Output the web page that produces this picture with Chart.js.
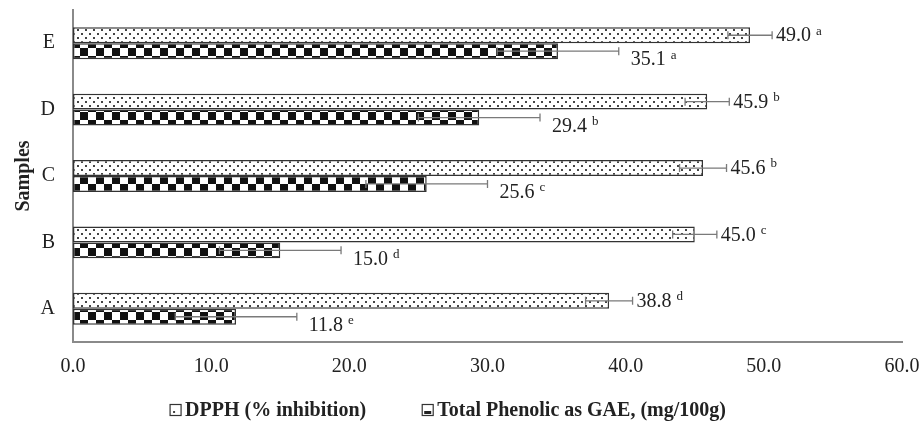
<!DOCTYPE html>
<html lang="en">
<head>
<meta charset="UTF-8">
<title>DPPH and Total Phenolic by sample</title>
<script src="https://cdn.jsdelivr.net/npm/chart.js"></script>
<style>
  html, body { margin: 0; padding: 0; background: #fff; }
  #wrap { width: 922px; height: 427px; }
</style>
</head>
<body>
<div id="wrap"><canvas id="chart" width="922" height="427"></canvas></div>
<script>
// values
const samples = ['A', 'B', 'C', 'D', 'E'];
const dpphValues = [38.8, 45.0, 45.6, 45.9, 49.0];
const dpphErrors = [1.7, 1.6, 1.7, 1.6, 1.6];
const dpphLetters = ['d', 'c', 'b', 'b', 'a'];
const phenolicValues = [11.8, 15.0, 25.6, 29.4, 35.1];
const phenolicErrors = [4.4, 4.4, 4.4, 4.4, 4.4];
const phenolicLetters = ['e', 'd', 'c', 'b', 'a'];
const seriesNames = ['DPPH (% inhibition)', 'Total Phenolic as GAE, (mg/100g)'];

const serif = "'Liberation Serif', 'Times New Roman', serif";
const inkColor = '#222';
const axisGray = '#8a8a8a';

// pattern fills, like the excel ones
function dotPattern() {
    let c = document.createElement('canvas');
    c.width = 8; c.height = 8;
    let g = c.getContext('2d');
    g.fillStyle = '#fff';
    g.fillRect(0, 0, 8, 8);
    g.fillStyle = '#444';
    g.fillRect(1, 1, 2, 2);
    g.fillRect(5, 5, 2, 2);
    return g.createPattern(c, 'repeat');
}

function checkerPattern() {
    let c = document.createElement('canvas');
    c.width = 16; c.height = 16;
    let g = c.getContext('2d');
    g.fillStyle = '#fff';
    g.fillRect(0, 0, 16, 16);
    g.fillStyle = '#111';
    g.fillRect(0, 0, 8, 8);
    g.fillRect(8, 8, 8, 8);
    return g.createPattern(c, 'repeat');
}

const ctx = document.getElementById('chart').getContext('2d');
const dots = dotPattern();
const checks = checkerPattern();

// error bars + value labels with significance letters
const errorBarPlugin = {
    id: 'errorBars',
    afterDatasetsDraw(chart) {
        const x = chart.scales.x;
        const g = chart.ctx;
        const sets = [
            { values: dpphValues, errs: dpphErrors, letters: dpphLetters, gap: 4, drop: 0 },
            { values: phenolicValues, errs: phenolicErrors, letters: phenolicLetters, gap: 12, drop: 8 }
        ];
        sets.forEach((s, di) => {
            const meta = chart.getDatasetMeta(di);
            meta.data.forEach((bar, i) => {
                const y = bar.y;
                const x0 = x.getPixelForValue(s.values[i] - s.errs[i]);
                const x1 = x.getPixelForValue(s.values[i] + s.errs[i]);
                g.save();
                g.strokeStyle = '#7a7a7a';
                g.lineWidth = 1.3;
                g.beginPath();
                g.moveTo(x0, y); g.lineTo(x1, y);
                g.moveTo(x0, y - 4); g.lineTo(x0, y + 4);
                g.moveTo(x1, y - 4); g.lineTo(x1, y + 4);
                g.stroke();

                // value text
                const tx = x1 + s.gap;
                const ty = y + s.drop;
                g.fillStyle = inkColor;
                g.textBaseline = 'middle';
                g.textAlign = 'left';
                g.font = '20px ' + serif;
                const txt = s.values[i].toFixed(1);
                g.fillText(txt, tx, ty + 1);
                const w = g.measureText(txt + ' ').width;
                g.font = '13px ' + serif;
                g.fillText(s.letters[i], tx + w, ty - 4);
                g.restore();
            });
        });
    }
};

// legend drawn at the bottom, boxes filled like the excel markers
const legendPlugin = {
    id: 'bottomLegend',
    afterDraw(chart) {
        const g = chart.ctx;
        g.save();
        g.font = 'bold 20px ' + serif;
        g.textBaseline = 'middle';
        g.textAlign = 'left';
        const boxW = 11, boxGap = 4, itemGap = 56;
        let total = 0;
        seriesNames.forEach((n, i) => {
            total += boxW + boxGap + g.measureText(n).width;
            if (i < seriesNames.length - 1) total += itemGap;
        });
        let cx = 448 - total / 2;
        const cy = 410;
        seriesNames.forEach((n, i) => {
            g.fillStyle = '#fff';
            g.fillRect(cx, cy - 5.5, boxW, boxW);
            g.fillStyle = i === 0 ? '#444' : '#222';
            if (i === 0) g.fillRect(cx + 3, cy + 1, 2, 2);
            else g.fillRect(cx + 2, cy + 1, 7, 3);
            g.strokeStyle = '#333';
            g.lineWidth = 1.2;
            g.strokeRect(cx, cy - 5.5, boxW, boxW);
            cx += boxW + boxGap;
            g.fillStyle = inkColor;
            g.fillText(n, cx, cy + 1);
            cx += g.measureText(n).width + itemGap;
        });
        g.restore();
    }
};

new Chart(ctx, {
    type: 'bar',
    data: {
        labels: samples,
        datasets: [
            {
                label: seriesNames[0],
                data: dpphValues,
                backgroundColor: dots,
                borderColor: '#333',
                borderWidth: 1.5,
                borderSkipped: false,
                categoryPercentage: 0.48,
                barPercentage: 1.0
            },
            {
                label: seriesNames[1],
                data: phenolicValues,
                backgroundColor: checks,
                borderColor: '#333',
                borderWidth: 1.5,
                borderSkipped: false,
                categoryPercentage: 0.48,
                barPercentage: 1.0
            }
        ]
    },
    options: {
        indexAxis: 'y',
        responsive: false,
        animation: false,
        events: [],
        layout: { padding: { top: 10, right: 20, bottom: 40, left: 0 } },
        plugins: {
            legend: { display: false },
            tooltip: { enabled: false }
        },
        scales: {
            x: {
                min: 0,
                max: 60,
                grid: { display: false, drawTicks: false },
                border: { display: true, color: axisGray, width: 2 },
                ticks: {
                    stepSize: 10,
                    padding: 13,
                    color: inkColor,
                    font: { family: serif, size: 20 },
                    callback: v => Number(v).toFixed(1)
                },
                afterFit: s => { s.height = 45; s.paddingLeft = 0; s.paddingRight = 0; }
            },
            y: {
                reverse: true,
                grid: { display: false, drawTicks: false },
                border: { display: true, color: axisGray, width: 2 },
                ticks: {
                    padding: 18,
                    color: inkColor,
                    font: { family: serif, size: 20 }
                },
                title: {
                    display: true,
                    text: 'Samples',
                    color: inkColor,
                    font: { family: serif, size: 20, weight: 'bold' },
                    padding: { top: 12, bottom: 0 }
                },
                afterFit: s => { s.width = 73; s.paddingTop = 0; s.paddingBottom = 0; }
            }
        }
    },
    plugins: [errorBarPlugin, legendPlugin]
});
</script>
</body>
</html>
